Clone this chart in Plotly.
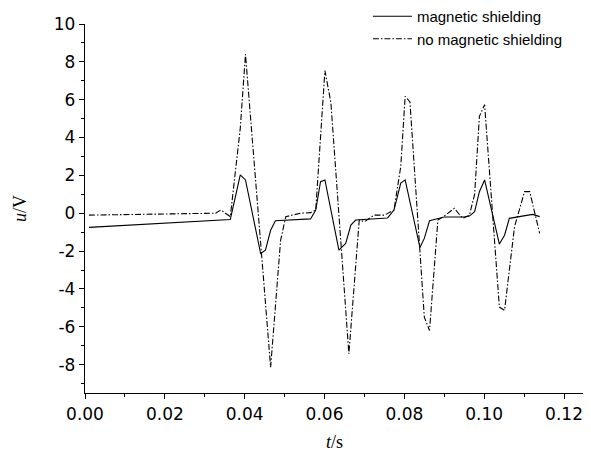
import plotly.graph_objects as go

# magnetic shielding (solid)
t_shield = [0.001, 0.0364, 0.0389, 0.0402, 0.0440, 0.0452, 0.0465, 0.0477, 0.0565, 0.0578,
            0.0590, 0.0601, 0.0636, 0.0653, 0.0666, 0.0678, 0.0758, 0.0774, 0.0791, 0.0802,
            0.0839, 0.0850, 0.0863, 0.0900, 0.0950, 0.0963, 0.0976, 0.0988, 0.1001, 0.1038,
            0.1051, 0.1063, 0.1110, 0.1122, 0.1139]
u_shield = [-0.75, -0.33, 2.03, 1.76, -2.13, -1.95, -0.90, -0.40, -0.30, 0.17,
            1.67, 1.76, -1.95, -1.60, -0.63, -0.36, -0.25, 0.17, 1.59, 1.76,
            -1.81, -1.33, -0.40, -0.20, -0.20, -0.15, 0.08, 1.14, 1.76, -1.63,
            -1.16, -0.27, -0.10, -0.06, -0.18]

# no magnetic shielding (dash-dot)
t_noshield = [0.001, 0.0327, 0.0340, 0.0364, 0.0389, 0.0402, 0.0465, 0.0490, 0.0503, 0.0540,
              0.0565, 0.0578, 0.0601, 0.0616, 0.0661, 0.0687, 0.0700, 0.0724, 0.0750, 0.0774,
              0.0791, 0.0802, 0.0814, 0.0850, 0.0863, 0.0884, 0.0900, 0.0925, 0.0946, 0.0963,
              0.0976, 0.0988, 0.1001, 0.1038, 0.1051, 0.1076, 0.1101, 0.1114, 0.1139]
u_noshield = [-0.10, 0.00, 0.17, -0.18, 4.50, 8.40, -8.14, -1.43, -0.18, 0.00,
              0.03, 0.17, 7.54, 5.83, -7.43, -0.36, -0.45, -0.10, -0.10, 0.17,
              2.47, 6.18, 5.88, -5.49, -6.20, -0.36, -0.15, 0.26, -0.27, -0.10,
              1.00, 5.12, 5.74, -4.96, -5.13, -0.71, 1.14, 1.14, -1.07]

x_ticks = [0.00, 0.02, 0.04, 0.06, 0.08, 0.10, 0.12]
y_ticks = [-8, -6, -4, -2, 0, 2, 4, 6, 8, 10]

fig = go.Figure()
fig.add_trace(go.Scatter(x=t_shield, y=u_shield, mode="lines", name="magnetic shielding",
                         line=dict(color="black", width=1.1)))
fig.add_trace(go.Scatter(x=t_noshield, y=u_noshield, mode="lines", name="no magnetic shielding",
                         line=dict(color="black", width=1.1, dash="6px,2px,1.5px,2px")))

axis_common = dict(
    showgrid=False, zeroline=False, showline=True, linecolor="black", linewidth=1.3,
    ticks="outside", ticklen=5, tickwidth=1.3, tickcolor="black", automargin=False,
    tickfont=dict(family="DejaVu Sans", size=17, color="black"),
    minor=dict(ticks="outside", ticklen=3, tickwidth=1.3, tickcolor="black"),
)

fig.update_xaxes(range=[0, 0.125], tickvals=x_ticks,
                 ticktext=[f"{v:.2f}" for v in x_ticks],
                 minor_dtick=0.01,
                 title=dict(text="<i>t</i>/s", font=dict(family="Liberation Serif, Times New Roman", size=18, color="black"), standoff=12),
                 **axis_common)
fig.update_yaxes(range=[-9.5, 10], tickvals=y_ticks,
                 ticktext=[str(v) for v in y_ticks],
                 minor_dtick=1,
                 title=dict(text="<i>u</i>/V", font=dict(family="Liberation Serif, Times New Roman", size=18, color="black"), standoff=22),
                 **axis_common)

# the page body adds an 8px offset, so the figure is 8px smaller than the window
fig.update_layout(
    width=583, height=450,
    margin=dict(l=77, r=7, t=16, b=65, autoexpand=False),
    plot_bgcolor="white", paper_bgcolor="white",
    showlegend=True,
    legend=dict(x=0.567, y=1.065, xanchor="left", yanchor="top",
                bgcolor="rgba(0,0,0,0)", borderwidth=0,
                font=dict(family="Liberation Sans, Arial", size=15, color="black"),
                tracegroupgap=0, itemwidth=39),
)

fig.write_html("out.html")
